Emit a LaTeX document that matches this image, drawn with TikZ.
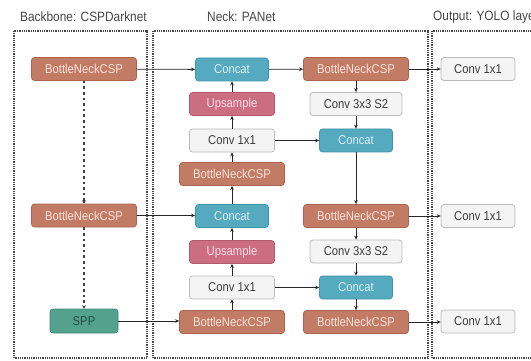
\documentclass[tikz,border=0pt]{standalone}
\usepackage{fontspec}
\setmainfont{Liberation Sans}
\newfontfamily\nodefont[FakeStretch=0.88]{Liberation Sans}
\usetikzlibrary{arrows.meta}
\definecolor{cspfill}{RGB}{194,124,102}
\definecolor{cspdraw}{RGB}{170,100,80}
\definecolor{csptext}{RGB}{250,225,215}
\definecolor{catfill}{RGB}{86,170,192}
\definecolor{catdraw}{RGB}{66,148,170}
\definecolor{cattext}{RGB}{215,240,245}
\definecolor{upfill}{RGB}{204,110,130}
\definecolor{updraw}{RGB}{180,90,110}
\definecolor{uptext}{RGB}{250,220,228}
\definecolor{convfill}{RGB}{244,244,244}
\definecolor{convdraw}{RGB}{185,185,185}
\definecolor{convtext}{RGB}{60,60,60}
\definecolor{sppfill}{RGB}{84,162,142}
\definecolor{sppdraw}{RGB}{64,140,120}
\definecolor{spptext}{RGB}{30,80,70}
\definecolor{frame}{RGB}{70,70,70}
\definecolor{titletext}{RGB}{70,70,70}
\tikzset{
  blk/.style={rounded corners=3pt, minimum height=23pt, inner sep=0pt, line width=0.7pt, font=\nodefont\fontsize{12.8}{13}\selectfont},
  csp/.style={blk, fill=cspfill, draw=cspdraw, text=csptext, minimum width=105pt},
  cat/.style={blk, fill=catfill, draw=catdraw, text=cattext, minimum width=73pt},
  ups/.style={blk, fill=upfill, draw=updraw, text=uptext, minimum width=85pt},
  conv/.style={blk, fill=convfill, draw=convdraw, text=convtext, minimum width=85pt},
  convs/.style={blk, fill=convfill, draw=convdraw, text=convtext, minimum width=92pt},
  outc/.style={blk, fill=convfill, draw=convdraw, text=convtext, minimum width=74pt},
  spp/.style={blk, fill=sppfill, draw=sppdraw, text=spptext, minimum width=68pt, minimum height=24pt},
  grp/.style={draw=frame, line width=1.4pt, dash pattern=on 1pt off 0.8pt},
  ttl/.style={text=titletext, font=\nodefont\fontsize{13.5}{14}\selectfont, inner sep=0pt, anchor=west},
  arr/.style={-{Stealth[length=4pt,width=3.5pt]}, line width=0.8pt, draw=black!85},
  bbarr/.style={-{Stealth[length=3.5pt,width=4pt]}, line width=2.6pt, dash pattern=on 2.6pt off 3pt, draw=black!75}
}
\begin{document}
\begin{tikzpicture}[x=1pt,y=-1pt]
\clip (0,0) rectangle (531,361);
\useasboundingbox (0,0) rectangle (531,361);
\fill[white] (0,0) rectangle (531,361);
% group frames
\draw[grp] (14,31) rectangle (147,358);
\draw[grp] (153,31) rectangle (428,358);
\draw[grp] (432,31) rectangle (545,358);
\node[ttl] (t1) at (20,17) {Backbone: CSPDarknet};
\node[ttl] (t2) at (207,17) {Neck: PANet};
\node[ttl] (t3) at (433,17) {Output: YOLO layers};
% backbone
\node[csp] (b1) at (84,69) {BottleNeckCSP};
\node[csp] (b2) at (84,215.5) {BottleNeckCSP};
\node[spp] (spp) at (84,321) {SPP};
% neck left column
\node[cat] (c1) at (232,69.5) {Concat};
\node[ups] (u1) at (232,104) {Upsample};
\node[conv] (v1) at (232,140.5) {Conv 1x1};
\node[csp] (n1) at (232,174) {BottleNeckCSP};
\node[cat] (c2) at (232,216) {Concat};
\node[ups] (u2) at (232,252) {Upsample};
\node[conv] (v2) at (232,287.5) {Conv 1x1};
\node[csp] (n2) at (232,322) {BottleNeckCSP};
% neck right column
\node[csp] (r1) at (356,69) {BottleNeckCSP};
\node[convs] (s1) at (356,104) {Conv 3x3 S2};
\node[cat] (k1) at (356,140.5) {Concat};
\node[csp] (r2) at (356,216) {BottleNeckCSP};
\node[convs] (s2) at (356,251.5) {Conv 3x3 S2};
\node[cat] (k2) at (356,287.5) {Concat};
\node[csp] (r3) at (356,322) {BottleNeckCSP};
% outputs
\node[outc] (o1) at (478,69) {Conv 1x1};
\node[outc] (o2) at (478,216) {Conv 1x1};
\node[outc] (o3) at (478,321.5) {Conv 1x1};
% backbone dotted
\draw[bbarr] (b1) -- (b2);
\draw[bbarr] (b2) -- (spp);
% horizontal connectors
\draw[arr] (b1) -- (c1);
\draw[arr] (b2.east) -- (c2.west |- b2.east);
\draw[arr] (spp) -- (n2.west |- spp.east);
\draw[arr] (c1) -- (r1);
\draw[arr] (v1) -- (k1);
\draw[arr] (v2) -- (k2);
\draw[arr] (r1) -- (o1);
\draw[arr] (r2) -- (o2);
\draw[arr] (r3.east) -- (o3.west |- r3.east);
% upward path
\draw[arr] (n2) -- (v2);
\draw[arr] (v2) -- (u2);
\draw[arr] (u2) -- (c2);
\draw[arr] (c2) -- (n1);
\draw[arr] (n1) -- (v1);
\draw[arr] (v1) -- (u1);
\draw[arr] (u1) -- (c1);
% downward path
\draw[arr] (r1) -- (s1);
\draw[arr] (s1) -- (k1);
\draw[arr] (k1) -- (r2);
\draw[arr] (r2) -- (s2);
\draw[arr] (s2) -- (k2);
\draw[arr] (k2) -- (r3);
\end{tikzpicture}
\end{document}
